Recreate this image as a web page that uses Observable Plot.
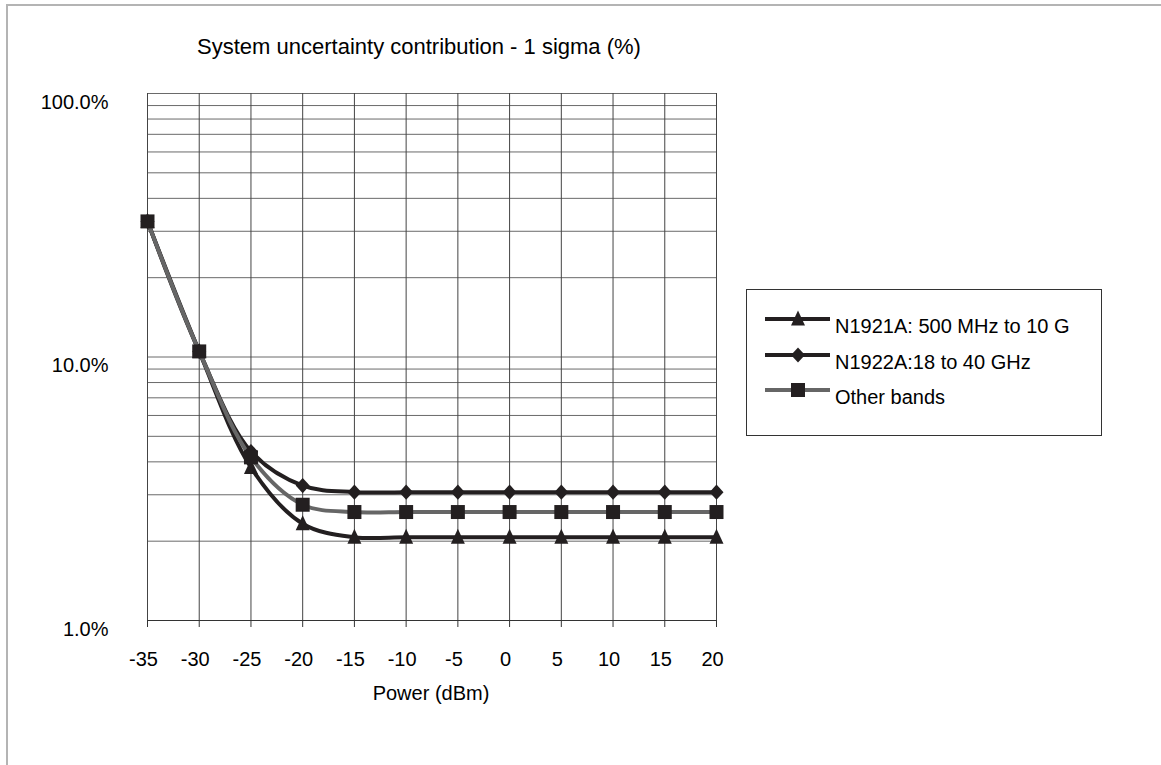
<!DOCTYPE html>
<html>
<head>
<meta charset="utf-8">
<script src="https://cdn.jsdelivr.net/npm/d3@7"></script>
<script src="https://cdn.jsdelivr.net/npm/@observablehq/plot@0.6"></script>
<style>
  body { margin: 0; background: #fff; font-family: "Liberation Sans", Arial, sans-serif; }
  #wrap { position: relative; width: 1161px; height: 765px; overflow: hidden; background: #fff; }
  #border { position: absolute; left: 6px; top: 4px; width: 1300px; height: 900px;
            border-left: 2px solid #b4b4b4; border-top: 2px solid #b4b4b4; }
  #chart { position: absolute; left: 0; top: 0; }
  .txt { position: absolute; color: #000; white-space: nowrap; line-height: 1; }
  #title { left: 0; width: 838px; top: 36px; text-align: center; font-size: 22px; }
  #xlabel { left: 331px; width: 200px; top: 683px; text-align: center; font-size: 20px; }
  #legend { position: absolute; left: 746px; top: 289px; }
</style>
</head>
<body>
<div id="wrap">
  <div id="border"></div>
  <div id="chart"></div>
  <div id="title" class="txt">System uncertainty contribution - 1 sigma (%)</div>
  <div id="xlabel" class="txt">Power (dBm)</div>
  <div id="legend"></div>
</div>
<script>
// ---- data ----
const power = [-35, -30, -25, -20, -15, -10, -5, 0, 5, 10, 15, 20];
const n1921 = [32.7, 10.5, 3.81, 2.33, 2.07, 2.07, 2.07, 2.07, 2.07, 2.07, 2.07, 2.07];
const n1922 = [32.7, 10.5, 4.38, 3.25, 3.07, 3.07, 3.07, 3.07, 3.07, 3.07, 3.07, 3.07];
const other = [32.7, 10.5, 4.16, 2.75, 2.58, 2.58, 2.58, 2.58, 2.58, 2.58, 2.58, 2.58];
const seriesNames = ["N1921A: 500 MHz to 10 G", "N1922A:18 to 40 GHz", "Other bands"];
const yTickLabels = [1, 10, 100];
const yGrid = [1, 2, 3, 4, 5, 6, 7, 8, 9, 10, 20, 30, 40, 50, 60, 70, 80, 90, 100];

// ---- symbols ----
const triSym = { draw(ctx, size) { const t = Math.sqrt(size / Math.PI);
  ctx.moveTo(0, -1.2 * t); ctx.lineTo(t, 0.93 * t); ctx.lineTo(-t, 0.93 * t); ctx.closePath(); } };
const diaSym = { draw(ctx, size) { const t = Math.sqrt(size / Math.PI);
  ctx.moveTo(0, -1.08 * t); ctx.lineTo(t, 0); ctx.lineTo(0, 1.08 * t); ctx.lineTo(-t, 0); ctx.closePath(); } };
const sqSym = { draw(ctx, size) { const t = Math.sqrt(size / Math.PI);
  ctx.rect(-t, -t, 2 * t, 2 * t); } };

const rows = (vals) => power.map((p, i) => ({ x: p, y: vals[i] }));
const d1 = rows(n1921), d2 = rows(n1922), d3v = rows(other);

const chart = Plot.plot({
  width: 1161,
  height: 765,
  marginLeft: 147,
  marginRight: 445,
  marginTop: 93,
  marginBottom: 145,
  style: { fontFamily: "Liberation Sans, Arial, sans-serif", fontSize: "20px", background: "transparent", color: "#000" },
  x: { domain: [-35, 20] },
  y: { type: "log", domain: [1, 100] },
  marks: [
    Plot.ruleY(yGrid, { stroke: "#6a6a6a", strokeWidth: 1 }),
    Plot.ruleX(power, { stroke: "#444", strokeWidth: 1 }),
    Plot.ruleY([1], { stroke: "#333", strokeWidth: 1.2 }),
    Plot.axisX({ ticks: power, tickSize: 7, tickFormat: () => "", stroke: "#333", label: null }),
    Plot.axisX({ ticks: power, tickSize: 0, tickPadding: 31, tickFormat: d => `${d}`, fontSize: 20, dx: -4, label: null }),
    Plot.axisY({ ticks: yTickLabels, tickSize: 0, tickPadding: 39, tickFormat: d => d.toFixed(1) + "%", fontSize: 20, dy: 9, label: null }),
    Plot.line(d1, { x: "x", y: "y", stroke: "#231f20", strokeWidth: 4, curve: "catmull-rom" }),
    Plot.line(d2, { x: "x", y: "y", stroke: "#231f20", strokeWidth: 4, curve: "catmull-rom" }),
    Plot.line(d3v, { x: "x", y: "y", stroke: "#666", strokeWidth: 4, curve: "catmull-rom" }),
    Plot.dot(d1, { x: "x", y: "y", symbol: triSym, r: 7, fill: "#231f20", stroke: "none" }),
    Plot.dot(d2, { x: "x", y: "y", symbol: diaSym, r: 7, fill: "#231f20", stroke: "none" }),
    Plot.dot(d3v, { x: "x", y: "y", symbol: sqSym, r: 7, fill: "#231f20", stroke: "none" })
  ]
});
document.getElementById("chart").appendChild(chart);

// ---- legend ----
const ns = "http://www.w3.org/2000/svg";
const lg = document.createElementNS(ns, "svg");
lg.setAttribute("width", 357); lg.setAttribute("height", 148);
lg.style.fontFamily = "Liberation Sans, Arial, sans-serif";
const box = document.createElementNS(ns, "rect");
box.setAttribute("x", 0.5); box.setAttribute("y", 0.5); box.setAttribute("width", 355); box.setAttribute("height", 146);
box.setAttribute("fill", "#fff"); box.setAttribute("stroke", "#333"); box.setAttribute("stroke-width", 1);
lg.appendChild(box);
const legStyles = [
  { stroke: "#231f20", sym: triSym },
  { stroke: "#231f20", sym: diaSym },
  { stroke: "#666", sym: sqSym }
];
const rowY = [30, 66, 101];
seriesNames.forEach((name, i) => {
  const y = rowY[i];
  const ln = document.createElementNS(ns, "line");
  ln.setAttribute("x1", 19); ln.setAttribute("x2", 84); ln.setAttribute("y1", y); ln.setAttribute("y2", y);
  ln.setAttribute("stroke", legStyles[i].stroke); ln.setAttribute("stroke-width", 4);
  lg.appendChild(ln);
  const p = d3.path(); legStyles[i].sym.draw(p, 49 * Math.PI);
  const mk = document.createElementNS(ns, "path");
  mk.setAttribute("d", p.toString()); mk.setAttribute("transform", `translate(52,${y})`);
  mk.setAttribute("fill", "#231f20");
  lg.appendChild(mk);
  const tx = document.createElementNS(ns, "text");
  tx.setAttribute("x", 89); tx.setAttribute("y", y + 14);
  tx.setAttribute("font-size", 20); tx.setAttribute("fill", "#000");
  tx.textContent = name;
  lg.appendChild(tx);
});
document.getElementById("legend").appendChild(lg);
</script>
</body>
</html>
